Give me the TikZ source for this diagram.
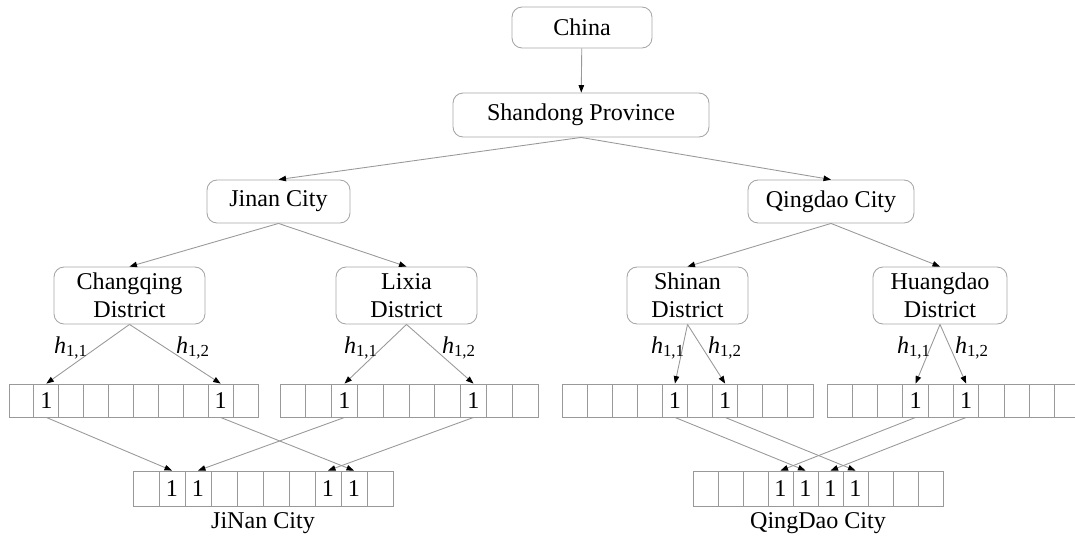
\documentclass[tikz,border=0pt]{standalone}
\usepackage{fontspec}
\setmainfont{Liberation Serif}
\usetikzlibrary{arrows.meta}

\begin{document}
\begin{tikzpicture}[x=0.02cm, y=-0.02cm, font=\fontsize{13.7}{16}\selectfont,
    region/.style={draw=black!35, line width=0.5pt, rounded corners=0.2cm, align=center, inner sep=0pt},
    cell/.style={draw=black!40, line width=0.5pt, inner sep=0pt},
    link/.style={draw=black!40, line width=0.5pt, -{Triangle[length=0.15cm, width=0.11cm, color=black]}},
  ]
  \useasboundingbox (0,0) rectangle (1075,538);
  \clip (0,0) rectangle (1075,538);

  % administrative levels
  \node[region, minimum width=2.80cm, minimum height=0.82cm] (china) at (582,27.5) {China};
  \node[region, minimum width=5.12cm, minimum height=0.88cm] (shandong) at (581,115) {Shandong Province};
  \node[region, minimum width=2.86cm, minimum height=0.86cm] (jinan) at (278.5,201.5) {Jinan City};
  \node[region, minimum width=3.32cm, minimum height=0.86cm] (qingdao) at (831,201.5) {Qingdao City};
  \node[region, minimum width=3.02cm, minimum height=1.14cm] (changqing) at (129.5,295.5) {Changqing\\District};
  \node[region, minimum width=2.82cm, minimum height=1.14cm] (lixia) at (406.5,295.5) {Lixia\\District};
  \node[region, minimum width=2.42cm, minimum height=1.14cm] (shinan) at (687.5,295.5) {Shinan\\District};
  \node[region, minimum width=2.68cm, minimum height=1.14cm] (huangdao) at (940,295.5) {Huangdao\\District};

  \draw[link] (china) -- (shandong);
  \draw[link] (shandong.south) -- (jinan.north);
  \draw[link] (shandong.south) -- (qingdao.north);
  \draw[link] (jinan.south) -- (changqing.north);
  \draw[link] (jinan.south) -- (lixia.north);
  \draw[link] (qingdao.south) -- (shinan.north);
  \draw[link] (qingdao.south) -- (huangdao.north);

  % bit arrays: name/left/cell width/y/height
  \foreach \r/\x/\w/\y/\h in {c1/9/24.9/400.5/33, c2/280/25.8/400.5/33, c3/562/25.1/400.5/33,
      c4/827/25.3/400.5/33, jn/133/26/488.5/35, qd/693/25/488.5/35}
    \foreach \i in {0,...,9}
      \node[cell, minimum width=\w*0.02cm, minimum height=\h*0.02cm] (\r-\i) at (\x+\w*\i+\w/2,\y) {};
  \foreach \c in {c1-1, c1-8, c2-2, c2-7, c3-4, c3-6, c4-3, c4-5,
      jn-1, jn-2, jn-7, jn-8, qd-3, qd-4, qd-5, qd-6}
    \node (\c-v) at (\c) {1};

  % hashing districts into the arrays
  \draw[link] (changqing.south) -- (c1-1.north);
  \draw[link] (changqing.south) -- (c1-8.north);
  \draw[link] (lixia.south) -- (c2-2.north);
  \draw[link] (lixia.south) -- (c2-7.north);
  \draw[link] (shinan.south) -- (c3-4.north);
  \draw[link] (shinan.south) -- (c3-6.north);
  \draw[link] (huangdao.south) -- (c4-3.north);
  \draw[link] (huangdao.south) -- (c4-5.north);

  \node (cq-h1) at (71,348) {\textit{h}\textsubscript{1,1}};
  \node (cq-h2) at (193,348) {\textit{h}\textsubscript{1,2}};
  \node (lx-h1) at (361,348) {\textit{h}\textsubscript{1,1}};
  \node (lx-h2) at (459,348) {\textit{h}\textsubscript{1,2}};
  \node (sn-h1) at (668,348) {\textit{h}\textsubscript{1,1}};
  \node (sn-h2) at (725,348) {\textit{h}\textsubscript{1,2}};
  \node (hd-h1) at (914,348) {\textit{h}\textsubscript{1,1}};
  \node (hd-h2) at (972,348) {\textit{h}\textsubscript{1,2}};

  % merging into the city arrays
  \draw[link] (c1-1.south) -- (jn-1.north);
  \draw[link] (c1-8.south) -- (jn-8.north);
  \draw[link] (c2-2.south) -- (jn-2.north);
  \draw[link] (c2-7.south) -- (jn-7.north);
  \draw[link] (c3-4.south) -- (qd-4.north);
  \draw[link] (c3-6.south) -- (qd-6.north);
  \draw[link] (c4-3.south) -- (qd-3.north);
  \draw[link] (c4-5.south) -- (qd-5.north);

  \node (jn-label) at (263,523) {JiNan City};
  \node (qd-label) at (818,523) {QingDao City};
\end{tikzpicture}
\end{document}
